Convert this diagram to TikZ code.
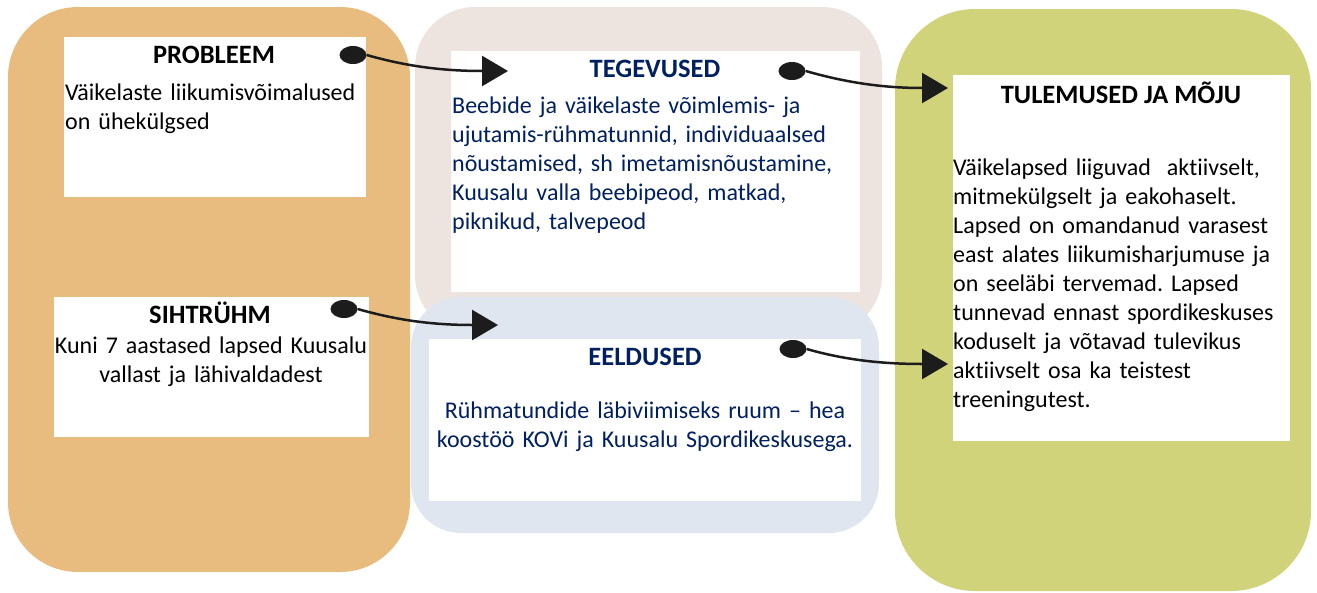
\documentclass[tikz,border=0pt]{standalone}
\usepackage{fontspec}
\setmainfont{Carlito}[Ligatures={NoCommon}]
\frenchspacing
\usetikzlibrary{arrows.meta,shapes.geometric}
\definecolor{orng}{RGB}{232,188,126}
\definecolor{beig}{RGB}{237,228,223}
\definecolor{blu}{RGB}{223,230,239}
\definecolor{grn}{RGB}{209,211,122}
\definecolor{navy}{RGB}{0,32,96}
\definecolor{ink}{RGB}{28,28,28}
\tikzset{
  wbox/.style={fill=white, draw=none, inner sep=0pt, outer sep=0pt, anchor=north west},
  ttl/.style={font=\fontsize{26.5}{32}\selectfont\bfseries, inner sep=0pt, anchor=base},
  body/.style={font=\fontsize{24}{29}\selectfont, inner sep=0pt, anchor=base west, align=left},
  cbody/.style={font=\fontsize{24}{29}\selectfont, inner sep=0pt, anchor=base, align=center},
  dotnode/.style={ellipse, fill=ink, minimum width=27pt, minimum height=18pt, inner sep=0pt},
  conn/.style={draw=ink, line width=2.5pt, -{Triangle[length=26pt,width=30pt]}},
}
\begin{document}
\begin{tikzpicture}[x=1pt,y=-1pt]
\useasboundingbox (0,0) rectangle (1317,592);
% panels
\fill[orng, rounded corners=70pt] (8,7) rectangle (410,572);
\fill[beig, rounded corners=60pt] (415,7) rectangle (882,335);
\fill[blu, rounded corners=50pt] (411,297) rectangle (879,533);
\fill[grn, rounded corners=80pt] (895,9) rectangle (1311,591);
% white boxes
\node[wbox, minimum width=302pt, minimum height=160pt] (pbox) at (64,37) {};
\node[wbox, minimum width=315pt, minimum height=140pt] (sbox) at (54,297) {};
\node[wbox, minimum width=409pt, minimum height=241pt] (tbox) at (451,51) {};
\node[wbox, minimum width=432pt, minimum height=162pt] (ebox) at (429,339) {};
\node[wbox, minimum width=337pt, minimum height=366pt] (rbox) at (953,75) {};
% texts
\node[ttl] (pt) at (214,63) {PROBLEEM};
\node[body, text width=300pt] (pb) at (65,100) {Väikelaste liikumisvõimalused\\on ühekülgsed};
\node[ttl] (st) at (210,323) {SIHTRÜHM};
\node[cbody, text width=315pt] (sb) at (211,353) {Kuni 7 aastased lapsed Kuusalu\\vallast ja lähivaldadest};
\node[ttl, text=navy] (tt) at (655,77) {TEGEVUSED};
\node[body, text=navy, text width=405pt] (tb) at (452,113) {Beebide ja väikelaste võimlemis- ja\\ujutamis-rühmatunnid, individuaalsed\\nõustamised, sh imetamisnõustamine,\\Kuusalu valla beebipeod, matkad,\\piknikud, talvepeod};
\node[ttl, text=navy] (et) at (645,365) {EELDUSED};
\node[cbody, text=navy, text width=430pt] (eb) at (645,418) {Rühmatundide läbiviimiseks ruum – hea\\koostöö KOVi ja Kuusalu Spordikeskusega.};
\node[ttl] (rt) at (1121,103) {TULEMUSED JA MÕJU};
\node[body, text width=336pt] (rb) at (953,175.5) {Väikelapsed liiguvad\ \ aktiivselt,\\mitmekülgselt ja eakohaselt.\\Lapsed on omandanud varasest\\east alates liikumisharjumuse ja\\on seeläbi tervemad. Lapsed\\tunnevad ennast spordikeskuses\\koduselt ja võtavad tulevikus\\aktiivselt osa ka teistest\\treeningutest.};
% connectors
\node[dotnode] (d1) at (353,55) {};
\coordinate (t1) at (508,71);
\node[dotnode] (d2) at (792,71) {};
\coordinate (t2) at (948,88);
\node[dotnode] (d3) at (344,309) {};
\coordinate (t3) at (498,325);
\node[dotnode] (d4) at (793,349) {};
\coordinate (t4) at (948,364);
\draw[conn] (d1.east) .. controls +(35,10) and +(-70,0) .. (t1);
\draw[conn] (d2.east) .. controls +(35,10) and +(-70,0) .. (t2);
\draw[conn] (d3.east) .. controls +(35,10) and +(-70,0) .. (t3);
\draw[conn] (d4.east) .. controls +(35,10) and +(-70,0) .. (t4);
\end{tikzpicture}
\end{document}
